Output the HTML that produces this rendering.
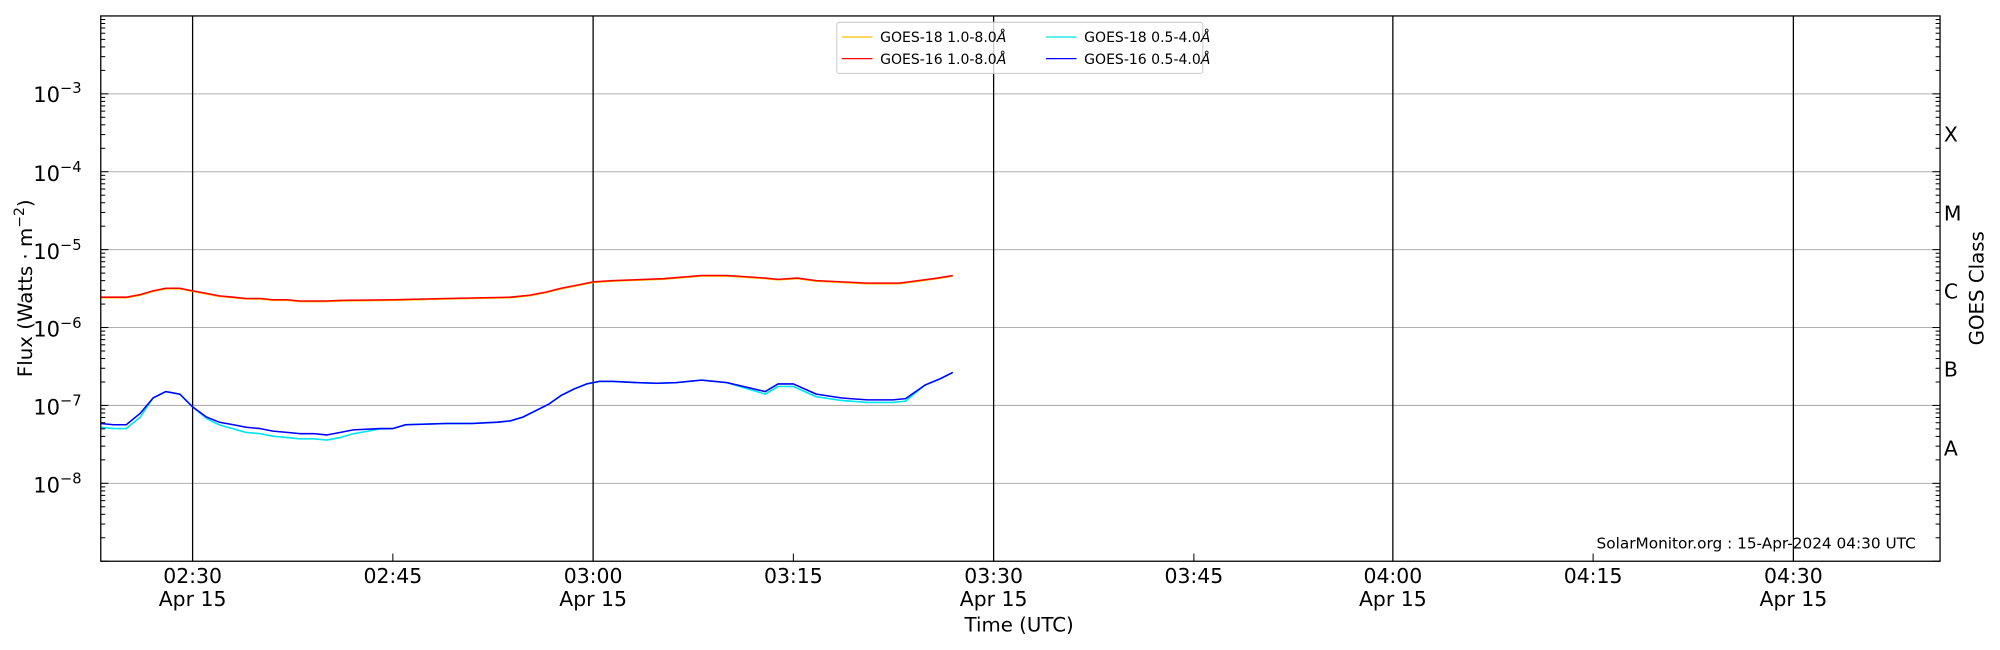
<!DOCTYPE html>
<html><head><meta charset="utf-8"><style>
html,body{margin:0;padding:0;background:#fff}
svg{display:block;font-family:"DejaVu Sans","Liberation Sans",sans-serif}
</style></head><body>
<svg id="s" width="2000" height="650" viewBox="0 0 1568 509.6" xmlns="http://www.w3.org/2000/svg">
<rect width="1568" height="509.6" fill="#fff"/>
<g id="grid"></g>
<g id="data" fill="none" stroke-width="1.3" stroke-linejoin="round"></g>
<g id="ticks" stroke="#000" stroke-width="0.8"></g>
<rect x="79" y="12.5" width="1442" height="427.5" fill="none" stroke="#000" stroke-width="1"/>
<g font-size="16.5" fill="#000" text-anchor="end">
<text x="64" y="80">10<tspan dy="-7" font-size="11.5">−3</tspan></text>
<text x="64" y="142">10<tspan dy="-7" font-size="11.5">−4</tspan></text>
<text x="64" y="203">10<tspan dy="-7" font-size="11.5">−5</tspan></text>
<text x="64" y="264">10<tspan dy="-7" font-size="11.5">−6</tspan></text>
<text x="64" y="325">10<tspan dy="-7" font-size="11.5">−7</tspan></text>
<text x="64" y="386">10<tspan dy="-7" font-size="11.5">−8</tspan></text>
</g>
<text transform="translate(25,226) rotate(-90)" font-size="15.5" text-anchor="middle">Flux (Watts · m<tspan dy="-6" font-size="11">−2</tspan><tspan dy="6">)</tspan></text>
<g font-size="16" text-anchor="start">
<text x="1524" y="111">X</text><text x="1524" y="173">M</text><text x="1524" y="234">C</text><text x="1524" y="295">B</text><text x="1524" y="357">A</text>
</g>
<text transform="translate(1555,226) rotate(-90)" font-size="15.5" text-anchor="middle">GOES Class</text>
<g font-size="16" text-anchor="middle">
<text x="151" y="457">02:30</text><text x="151" y="475">Apr 15</text>
<text x="308" y="457">02:45</text>
<text x="465" y="457">03:00</text><text x="465" y="475">Apr 15</text>
<text x="622" y="457">03:15</text>
<text x="779" y="457">03:30</text><text x="779" y="475">Apr 15</text>
<text x="936" y="457">03:45</text>
<text x="1092" y="457">04:00</text><text x="1092" y="475">Apr 15</text>
<text x="1249" y="457">04:15</text>
<text x="1406" y="457">04:30</text><text x="1406" y="475">Apr 15</text>
</g>
<text x="799" y="495" font-size="15.5" text-anchor="middle">Time (UTC)</text>
<text x="1502" y="430" font-size="12" text-anchor="end">SolarMonitor.org : 15-Apr-2024 04:30 UTC</text>
<g>
<rect x="656" y="17.5" width="287" height="40" rx="2" fill="#fff" fill-opacity="0.8" stroke="#ccc" stroke-width="0.8"/>
<line x1="660" y1="29" x2="684" y2="29" stroke="#ffc000" stroke-width="1"/>
<line x1="660" y1="46" x2="684" y2="46" stroke="#ff0000" stroke-width="1"/>
<line x1="820" y1="29" x2="844" y2="29" stroke="#00e5ee" stroke-width="1"/>
<line x1="820" y1="46" x2="844" y2="46" stroke="#0000ff" stroke-width="1"/>
<g font-size="11">
<text x="690" y="33">GOES-18 1.0-8.0<tspan font-style="italic">Å</tspan></text>
<text x="690" y="50">GOES-16 1.0-8.0<tspan font-style="italic">Å</tspan></text>
<text x="850" y="33">GOES-18 0.5-4.0<tspan font-style="italic">Å</tspan></text>
<text x="850" y="50">GOES-16 0.5-4.0<tspan font-style="italic">Å</tspan></text>
</g>
</g>
</svg>
<script>
var NS="http://www.w3.org/2000/svg";
function el(p,t,a){var e=document.createElementNS(NS,t);for(var k in a)e.setAttribute(k,a[k]);document.getElementById(p).appendChild(e);return e;}
var L=79,R=1521,T=12.5,B=440;
function yv(e){return B-(e+9)*(B-T)/7;}
for(var d=-8;d<=-3;d++){el("grid","line",{x1:L,x2:R,y1:yv(d),y2:yv(d),stroke:"#b0b0b0","stroke-width":0.8});}
[151,465,779,1092,1406].forEach(function(x){el("grid","line",{x1:x,x2:x,y1:T,y2:B,stroke:"#000","stroke-width":1});});
for(var d=-9;d<-2;d++){for(var m=1;m<10;m++){var y=yv(d+Math.log10(m));if(y<T)continue;var len=m==1?6:3.5;
el("ticks","line",{x1:L,x2:L+len,y1:y,y2:y});el("ticks","line",{x1:R,x2:R-len,y1:y,y2:y});}}
[308,622,936,1249].forEach(function(x){el("ticks","line",{x1:x,x2:x,y1:B,y2:B-6});});
function path(pts,c,w){var s="M"+pts.map(function(p){return p[0]+","+p[1]}).join("L");el("data","path",{d:s,stroke:c,"stroke-width":w||1.3});}
var red=[[79,233],[89,233],[99,233],[110,231],[120,228],[130,226],[141,226],[151,228],[162,230],[172,232],[183,233],[193,234],[204,234],[214,235],[225,235],[235,236],[246,236],[256,236],[267,235.5],[308,235],[350,234],[400,233],[415,231.5],[428,229],[440,226],[455,223],[465,221],[480,220],[520,218.5],[550,216],[570,216],[600,218],[610,219],[625,218],[640,220],[660,221],[680,222],[705,222],[720,220],[735,218],[747,216]];
var blue=[[79,332],[89,333],[99,333],[110,324],[120,312],[130,307],[141,309],[151,319],[162,327],[172,331],[183,333],[193,335],[204,336],[214,338],[225,339],[235,340],[246,340],[256,341],[267,339],[277,337],[298,336],[308,336],[318,333],[350,332],[370,332],[390,331],[400,330],[410,327],[420,322],[430,317],[440,310],[450,305],[460,301],[470,299],[480,299],[500,300],[515,300.5],[530,300],[550,298],[570,300],[600,307],[610,301],[622,301],[640,309],[660,312],[680,313.5],[700,313.5],[710,312.5],[725,302],[737,297],[747,292]];
var cyan=blue.map(function(p){var x=p[0],y=p[1];var dy=0;if(x<=110)dy=3;else if(x>=151&&x<=300)dy=Math.min(4,(x-151)/10)*(x<270?1:(300-x)/30);else if(x>=600&&x<=720)dy=2;return [x,y+dy];});
var orange=red.map(function(p){return [p[0],p[1]+0.4];});
path(orange,"#ffc000",1.3);path(red,"#ff0000",1.2);path(cyan,"#00e5ee",1.3);path(blue,"#0000ff",1.2);
</script>
</body></html>
